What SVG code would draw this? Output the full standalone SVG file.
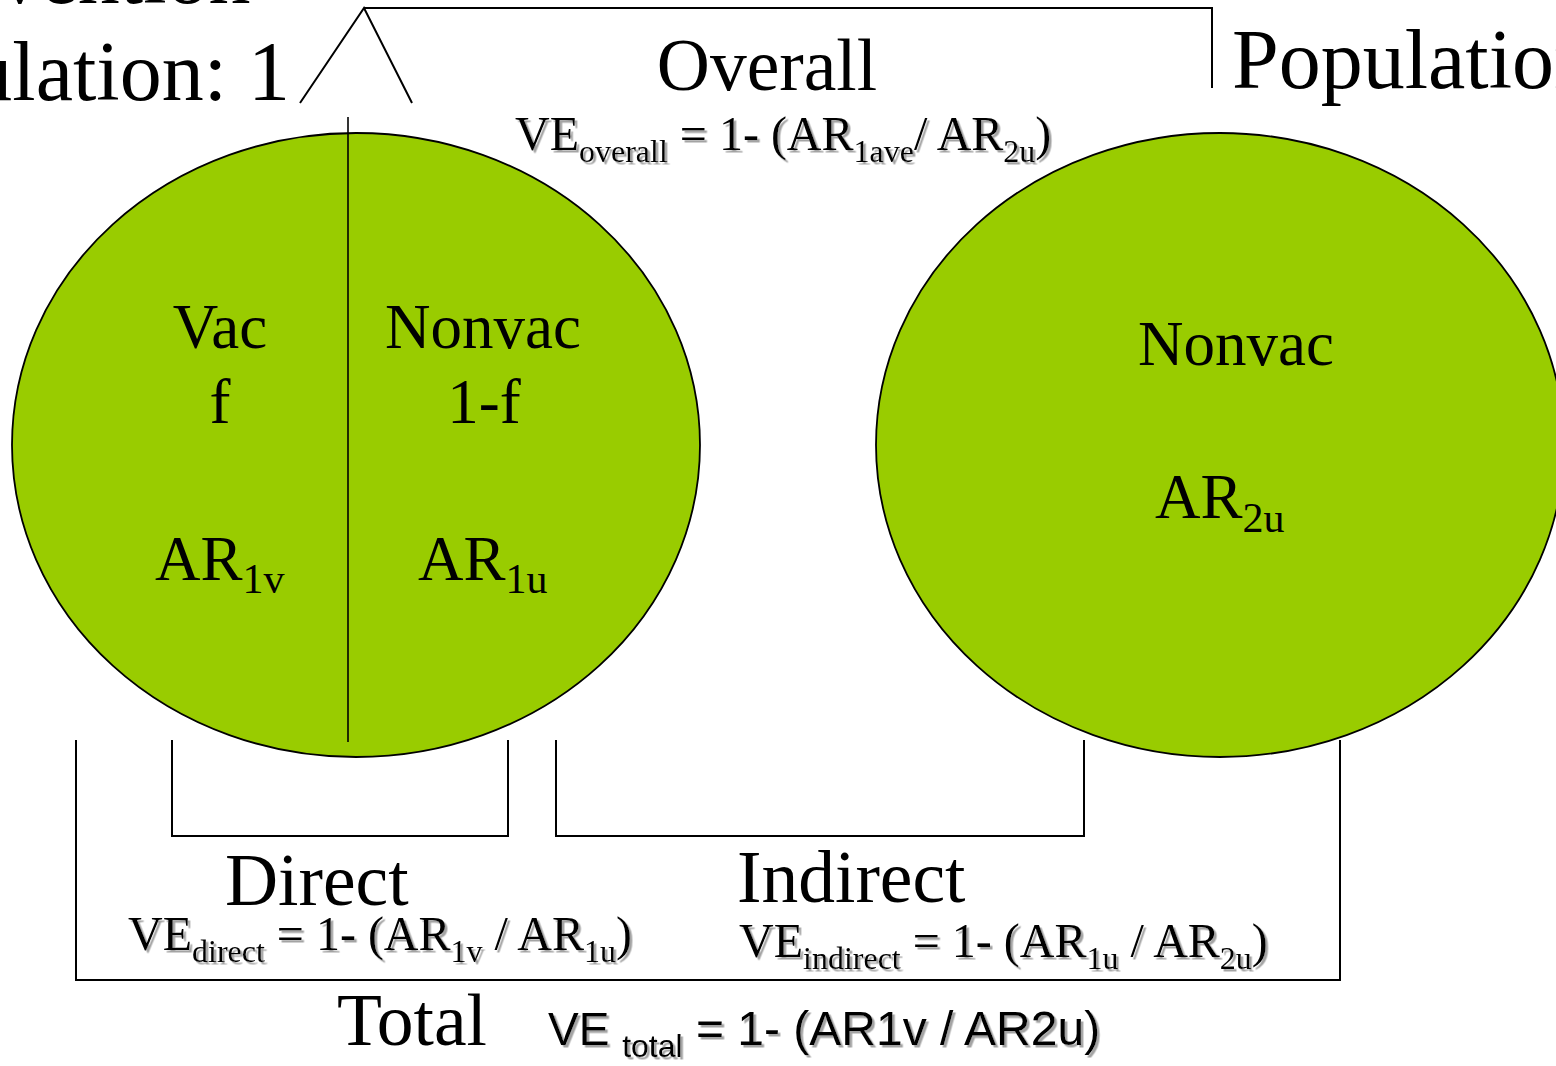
<svg xmlns="http://www.w3.org/2000/svg" width="1556" height="1066" viewBox="0 0 1556 1066">
<defs>
<style>
.serif{font-family:"Liberation Serif","Times New Roman",serif;fill:#000}
.sans{font-family:"Liberation Sans",Arial,sans-serif;fill:#000}
.pop{font-size:84px}
.lab{font-size:73.5px}
.cell{font-size:63px}
.sub{font-size:42px}
.fm{font-size:48px}
.fs{font-size:32px}
.ell{fill:#99CC00;stroke:#000;stroke-width:1.8}
.ln{fill:none;stroke:#000;stroke-width:2}
</style>
<filter id="shadow" x="-5%" y="-20%" width="110%" height="150%">
<feDropShadow dx="2.5" dy="2.5" stdDeviation="0.6" flood-color="#9a9a9a" flood-opacity="0.9"/>
</filter>
</defs>
<rect width="1556" height="1066" fill="#fff"/>

<g id="population1-title">
<text class="serif pop" x="-160" y="3">Intervention</text>
<text class="serif pop" x="290" y="100" text-anchor="end">Population: 1</text>
</g>
<g id="population2-title">
<text class="serif pop" x="1232" y="88">Population: 2</text>
</g>

<g id="population1">
<ellipse class="ell" cx="356" cy="445" rx="344" ry="312"/>
<g id="vac">
<text class="serif cell" x="220" y="348" text-anchor="middle">Vac</text>
<text class="serif cell" x="220" y="423" text-anchor="middle">f</text>
<text class="serif cell" x="155" y="580">AR<tspan class="sub" dy="13">1v</tspan></text>
</g>
<g id="nonvac1">
<text class="serif cell" x="483" y="348" text-anchor="middle">Nonvac</text>
<text class="serif cell" x="484" y="423" text-anchor="middle">1-f</text>
<text class="serif cell" x="418" y="580">AR<tspan class="sub" dy="13">1u</tspan></text>
</g>
</g>

<g id="population2">
<ellipse class="ell" cx="1220" cy="445" rx="344" ry="312"/>
<text class="serif cell" x="1236" y="365" text-anchor="middle">Nonvac</text>
<text class="serif cell" x="1155" y="518">AR<tspan class="sub" dy="14">2u</tspan></text>
</g>

<g id="connectors">
<line x1="348" y1="117" x2="348" y2="742" stroke="#000" stroke-width="1.6"/>
<polyline class="ln" points="300,103 364,8 412,103"/>
<polyline class="ln" points="364,8 1212,8 1212,88"/>
<polyline class="ln" points="172,740 172,836 508,836 508,740"/>
<polyline class="ln" points="556,740 556,836 1084,836 1084,740"/>
<polyline class="ln" points="76,740 76,980 1340,980 1340,740"/>
</g>

<g id="overall-label">
<text class="serif lab" x="767" y="90" text-anchor="middle">Overall</text>
<text class="serif fm" x="515" y="150" filter="url(#shadow)">VE<tspan class="fs" dy="12">overall</tspan><tspan dy="-12"> = 1- (AR</tspan><tspan class="fs" dy="12">1ave</tspan><tspan dy="-12">/ AR</tspan><tspan class="fs" dy="12">2u</tspan><tspan dy="-12">)</tspan></text>
</g>

<g id="direct-label">
<text class="serif lab" x="225" y="905">Direct</text>
<text class="serif fm" x="128" y="950" filter="url(#shadow)">VE<tspan class="fs" dy="12">direct</tspan><tspan dy="-12"> = 1- (AR</tspan><tspan class="fs" dy="12">1v</tspan><tspan dy="-12"> / AR</tspan><tspan class="fs" dy="12">1u</tspan><tspan dy="-12">)</tspan></text>
</g>

<g id="indirect-label">
<text class="serif lab" x="737" y="902">Indirect</text>
<text class="serif fm" x="739" y="957" filter="url(#shadow)">VE<tspan class="fs" dy="12">indirect</tspan><tspan dy="-12"> = 1- (AR</tspan><tspan class="fs" dy="12">1u</tspan><tspan dy="-12"> / AR</tspan><tspan class="fs" dy="12">2u</tspan><tspan dy="-12">)</tspan></text>
</g>

<g id="total-label">
<text class="serif lab" x="337" y="1045">Total</text>
<text class="sans" x="548" y="1045" font-size="46" filter="url(#shadow)">VE <tspan font-size="32" dy="12">total</tspan><tspan font-size="48" dy="-12"> = 1- (AR1v / AR2u)</tspan></text>
</g>
</svg>
